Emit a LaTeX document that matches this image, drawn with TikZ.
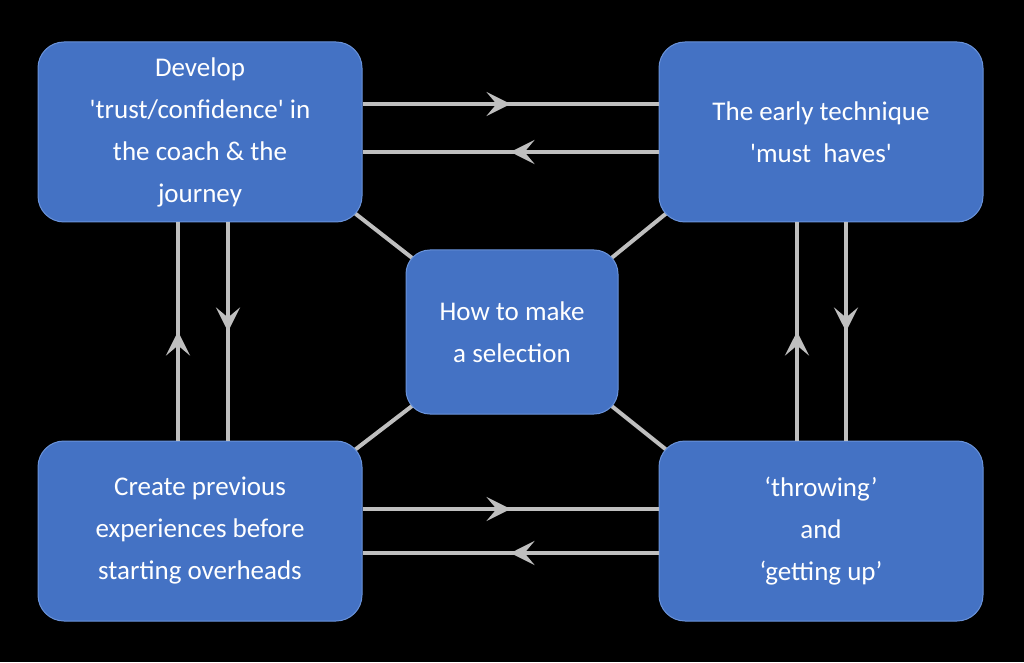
\documentclass[tikz,border=0pt]{standalone}
\usepackage{fontspec}
\setmainfont{Carlito}
\usepackage{textcomp}
\usetikzlibrary{decorations.markings,arrows.meta,backgrounds}
\definecolor{boxblue}{HTML}{4472C4}
\definecolor{boxedge}{HTML}{6A93DA}
\definecolor{arr}{HTML}{BFBFBF}
\newcommand{\sq}{\textquotesingle}
\begin{document}
\begin{tikzpicture}[x=1pt,y=1pt,
  box/.style={draw=boxedge,line width=1pt,fill=boxblue,rounded corners=26pt,text=white,align=center,
    font=\fontsize{27}{42}\selectfont,inner sep=0pt},
  big/.style={box,minimum width=324pt,minimum height=180pt},
  flow/.style={draw=arr,line width=4.5pt,postaction={decorate},
    decoration={markings,mark=at position 0.5 with {\arrow[arr]{Stealth[length=24pt,width=24pt,inset=10pt]}}}},
  diag/.style={draw=arr,line width=4pt}]
\useasboundingbox (0,0) rectangle (1024,662);
\node[big] (TL) at (200,530) {Develop\\\sq trust/confidence\sq{} in\\the coach \& the\\journey};
\node[big] (TR) at (821,530) {The early technique\\\sq must\ \ haves\sq};
\node[big] (BL) at (200,131) {Create previous\\experiences before\\starting overheads};
\node[big] (BR) at (821,131) {‘throwing’\\and\\‘getting up’};
\node[box,minimum width=212pt,minimum height=164pt,rounded corners=24pt] (C) at (512,330) {How to make\\a selection};
\begin{scope}[on background layer]
\fill[black] (0,0) rectangle (1024,662);
\draw[diag] ([shift={(-15,15)}]TL.south east) -- ([shift={(15,-15)}]C.north west);
\draw[diag] ([shift={(15,15)}]TR.south west) -- ([shift={(-15,-15)}]C.north east);
\draw[diag] ([shift={(-15,-15)}]BL.north east) -- ([shift={(15,15)}]C.south west);
\draw[diag] ([shift={(15,-15)}]BR.north west) -- ([shift={(-15,15)}]C.south east);
\end{scope}
\draw[flow] (TL.east|-0,558) -- (TR.west|-0,558);
\draw[flow] (TR.west|-0,510) -- (TL.east|-0,510);
\draw[flow] (BL.east|-0,153) -- (BR.west|-0,153);
\draw[flow] (BR.west|-0,109) -- (BL.east|-0,109);
\draw[flow] (178,0|-BL.north) -- (178,0|-TL.south);
\draw[flow] (228,0|-TL.south) -- (228,0|-BL.north);
\draw[flow] (797,0|-BR.north) -- (797,0|-TR.south);
\draw[flow] (846,0|-TR.south) -- (846,0|-BR.north);
\end{tikzpicture}
\end{document}
